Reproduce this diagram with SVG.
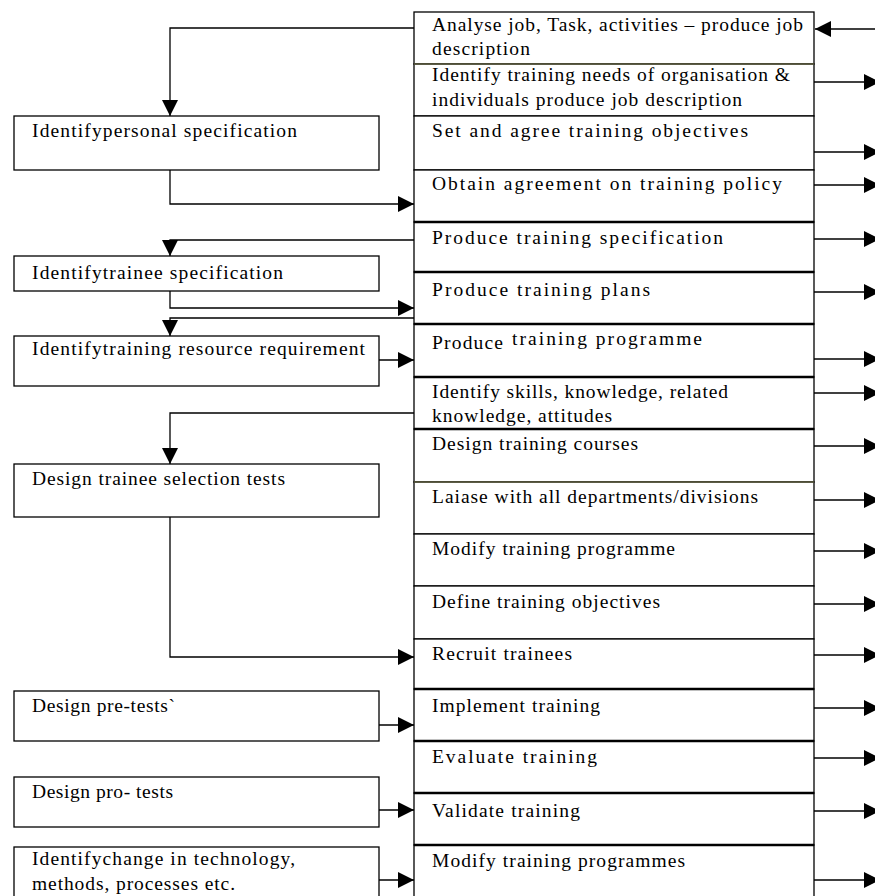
<svg xmlns="http://www.w3.org/2000/svg" width="875" height="896" viewBox="0 0 875 896">
<style>
.box{fill:#fff;stroke:#000;stroke-width:1.3}
.thk{stroke:#000;stroke-width:2.4}
.oli{stroke:#5e5e40;stroke-width:1.3}
.t{font-family:"Liberation Serif","Times New Roman",serif;font-size:19.5px;fill:#000}
.c{fill:none;stroke:#000;stroke-width:1.3}
</style>
<defs>
<marker id="ah" markerUnits="userSpaceOnUse" markerWidth="18" markerHeight="18" refX="16" refY="8" orient="auto" viewBox="0 0 18 18">
<path d="M0,0 L16,8 L0,16 z" fill="#000"/>
</marker>
</defs>
<rect width="875" height="896" fill="#fff"/>

<g id="r1"><rect class="box" x="414" y="12" width="400" height="52"/>
<text class="t" x="432" y="31" textLength="371" lengthAdjust="spacing">Analyse job, Task, activities – produce job</text>
<text class="t" x="432" y="55" textLength="98" lengthAdjust="spacing">description</text></g>
<g id="r2"><rect class="box" x="414" y="64" width="400" height="52"/><line class="oli" x1="414" y1="64" x2="814" y2="64"/>
<text class="t" x="432" y="81" textLength="358" lengthAdjust="spacing">Identify training needs of organisation &amp;</text>
<text class="t" x="432" y="106" textLength="310" lengthAdjust="spacing">individuals produce job description</text></g>
<g id="r3"><rect class="box" x="414" y="116" width="400" height="54"/>
<text class="t" x="432" y="137" textLength="316" lengthAdjust="spacing">Set and agree training objectives</text></g>
<g id="r4"><rect class="box" x="414" y="170" width="400" height="52"/>
<text class="t" x="432" y="190" textLength="350" lengthAdjust="spacing">Obtain agreement on training policy</text></g>
<g id="r5"><rect class="box" x="414" y="222" width="400" height="50"/><line class="thk" x1="414" y1="222" x2="814" y2="222"/>
<text class="t" x="432" y="244" textLength="291" lengthAdjust="spacing">Produce training specification</text></g>
<g id="r6"><rect class="box" x="414" y="272" width="400" height="52"/><line class="thk" x1="414" y1="272" x2="814" y2="272"/>
<text class="t" x="432" y="296" textLength="218" lengthAdjust="spacing">Produce training plans</text></g>
<g id="r7"><rect class="box" x="414" y="324" width="400" height="53"/><line class="thk" x1="414" y1="324" x2="814" y2="324"/>
<text class="t" x="432" y="349" textLength="71" lengthAdjust="spacing">Produce</text>
<text class="t" x="512" y="345" textLength="190" lengthAdjust="spacing">training programme</text></g>
<g id="r8"><rect class="box" x="414" y="377" width="400" height="52"/><line class="thk" x1="414" y1="377" x2="814" y2="377"/>
<text class="t" x="432" y="398" textLength="296" lengthAdjust="spacing">Identify skills, knowledge, related</text>
<text class="t" x="432" y="422" textLength="180" lengthAdjust="spacing">knowledge, attitudes</text></g>
<g id="r9"><rect class="box" x="414" y="429" width="400" height="53"/><line class="thk" x1="414" y1="429" x2="814" y2="429"/>
<text class="t" x="432" y="450" textLength="206" lengthAdjust="spacing">Design training courses</text></g>
<g id="r10"><rect class="box" x="414" y="482" width="400" height="52"/><line class="oli" x1="414" y1="482" x2="814" y2="482"/>
<text class="t" x="432" y="503" textLength="326" lengthAdjust="spacing">Laiase with all departments/divisions</text></g>
<g id="r11"><rect class="box" x="414" y="534" width="400" height="52"/>
<text class="t" x="432" y="555" textLength="243" lengthAdjust="spacing">Modify training programme</text></g>
<g id="r12"><rect class="box" x="414" y="586" width="400" height="53"/>
<text class="t" x="432" y="608" textLength="228" lengthAdjust="spacing">Define training objectives</text></g>
<g id="r13"><rect class="box" x="414" y="639" width="400" height="50"/>
<text class="t" x="432" y="660" textLength="140" lengthAdjust="spacing">Recruit trainees</text></g>
<g id="r14"><rect class="box" x="414" y="689" width="400" height="52"/><line class="thk" x1="414" y1="689" x2="814" y2="689"/>
<text class="t" x="432" y="712" textLength="168" lengthAdjust="spacing">Implement training</text></g>
<g id="r15"><rect class="box" x="414" y="741" width="400" height="52"/><line class="thk" x1="414" y1="741" x2="814" y2="741"/>
<text class="t" x="432" y="763" textLength="165" lengthAdjust="spacing">Evaluate training</text></g>
<g id="r16"><rect class="box" x="414" y="793" width="400" height="52"/><line class="thk" x1="414" y1="793" x2="814" y2="793"/>
<text class="t" x="432" y="817" textLength="148" lengthAdjust="spacing">Validate training</text></g>
<g id="r17"><rect class="box" x="414" y="845" width="400" height="70"/><line class="thk" x1="414" y1="845" x2="814" y2="845"/>
<text class="t" x="432" y="867" textLength="253" lengthAdjust="spacing">Modify training programmes</text></g>

<g id="b1"><rect class="box" x="14" y="116" width="365" height="54"/>
<text class="t" x="32" y="137" textLength="265" lengthAdjust="spacing">Identifypersonal specification</text></g>
<g id="b2"><rect class="box" x="14" y="256" width="365" height="35"/>
<text class="t" x="32" y="279" textLength="251" lengthAdjust="spacing">Identifytrainee specification</text></g>
<g id="b3"><rect class="box" x="14" y="336" width="365" height="50"/>
<text class="t" x="32" y="355" textLength="333" lengthAdjust="spacing">Identifytraining resource requirement</text></g>
<g id="b4"><rect class="box" x="14" y="464" width="365" height="53"/>
<text class="t" x="32" y="485" textLength="253" lengthAdjust="spacing">Design trainee selection tests</text></g>
<g id="b5"><rect class="box" x="14" y="691" width="365" height="50"/>
<text class="t" x="32" y="712" textLength="143" lengthAdjust="spacing">Design pre-tests`</text></g>
<g id="b6"><rect class="box" x="14" y="777" width="365" height="50"/>
<text class="t" x="32" y="798" textLength="141" lengthAdjust="spacing">Design pro- tests</text></g>
<g id="b7"><rect class="box" x="14" y="847" width="365" height="70"/>
<text class="t" x="32" y="865" textLength="263" lengthAdjust="spacing">Identifychange in technology,</text>
<text class="t" x="32" y="890" textLength="203" lengthAdjust="spacing">methods, processes etc.</text></g>

<g id="connectors">
<path class="c" d="M414,28 H170 V116" marker-end="url(#ah)"/>
<path class="c" d="M875,29 H815" marker-end="url(#ah)"/>
<path class="c" d="M170,170 V204 H414" marker-end="url(#ah)"/>
<path class="c" d="M414,240 H170 V256" marker-end="url(#ah)"/>
<path class="c" d="M170,291 V308 H414" marker-end="url(#ah)"/>
<path class="c" d="M414,318 H170 V336" marker-end="url(#ah)"/>
<path class="c" d="M379,360 H414" marker-end="url(#ah)"/>
<path class="c" d="M414,413 H170 V464" marker-end="url(#ah)"/>
<path class="c" d="M170,517 V657 H414" marker-end="url(#ah)"/>
<path class="c" d="M379,725 H414" marker-end="url(#ah)"/>
<path class="c" d="M379,810 H414" marker-end="url(#ah)"/>
<path class="c" d="M379,880 H414" marker-end="url(#ah)"/>
<path class="c" d="M814,82 H880" marker-end="url(#ah)"/>
<path class="c" d="M814,152 H880" marker-end="url(#ah)"/>
<path class="c" d="M814,185 H880" marker-end="url(#ah)"/>
<path class="c" d="M814,239 H880" marker-end="url(#ah)"/>
<path class="c" d="M814,292 H880" marker-end="url(#ah)"/>
<path class="c" d="M814,359 H880" marker-end="url(#ah)"/>
<path class="c" d="M814,393 H880" marker-end="url(#ah)"/>
<path class="c" d="M814,446 H880" marker-end="url(#ah)"/>
<path class="c" d="M814,500 H880" marker-end="url(#ah)"/>
<path class="c" d="M814,551 H880" marker-end="url(#ah)"/>
<path class="c" d="M814,604 H880" marker-end="url(#ah)"/>
<path class="c" d="M814,655 H880" marker-end="url(#ah)"/>
<path class="c" d="M814,708 H880" marker-end="url(#ah)"/>
<path class="c" d="M814,758 H880" marker-end="url(#ah)"/>
<path class="c" d="M814,811 H880" marker-end="url(#ah)"/>
<path class="c" d="M814,880 H880" marker-end="url(#ah)"/>
</g>
</svg>
